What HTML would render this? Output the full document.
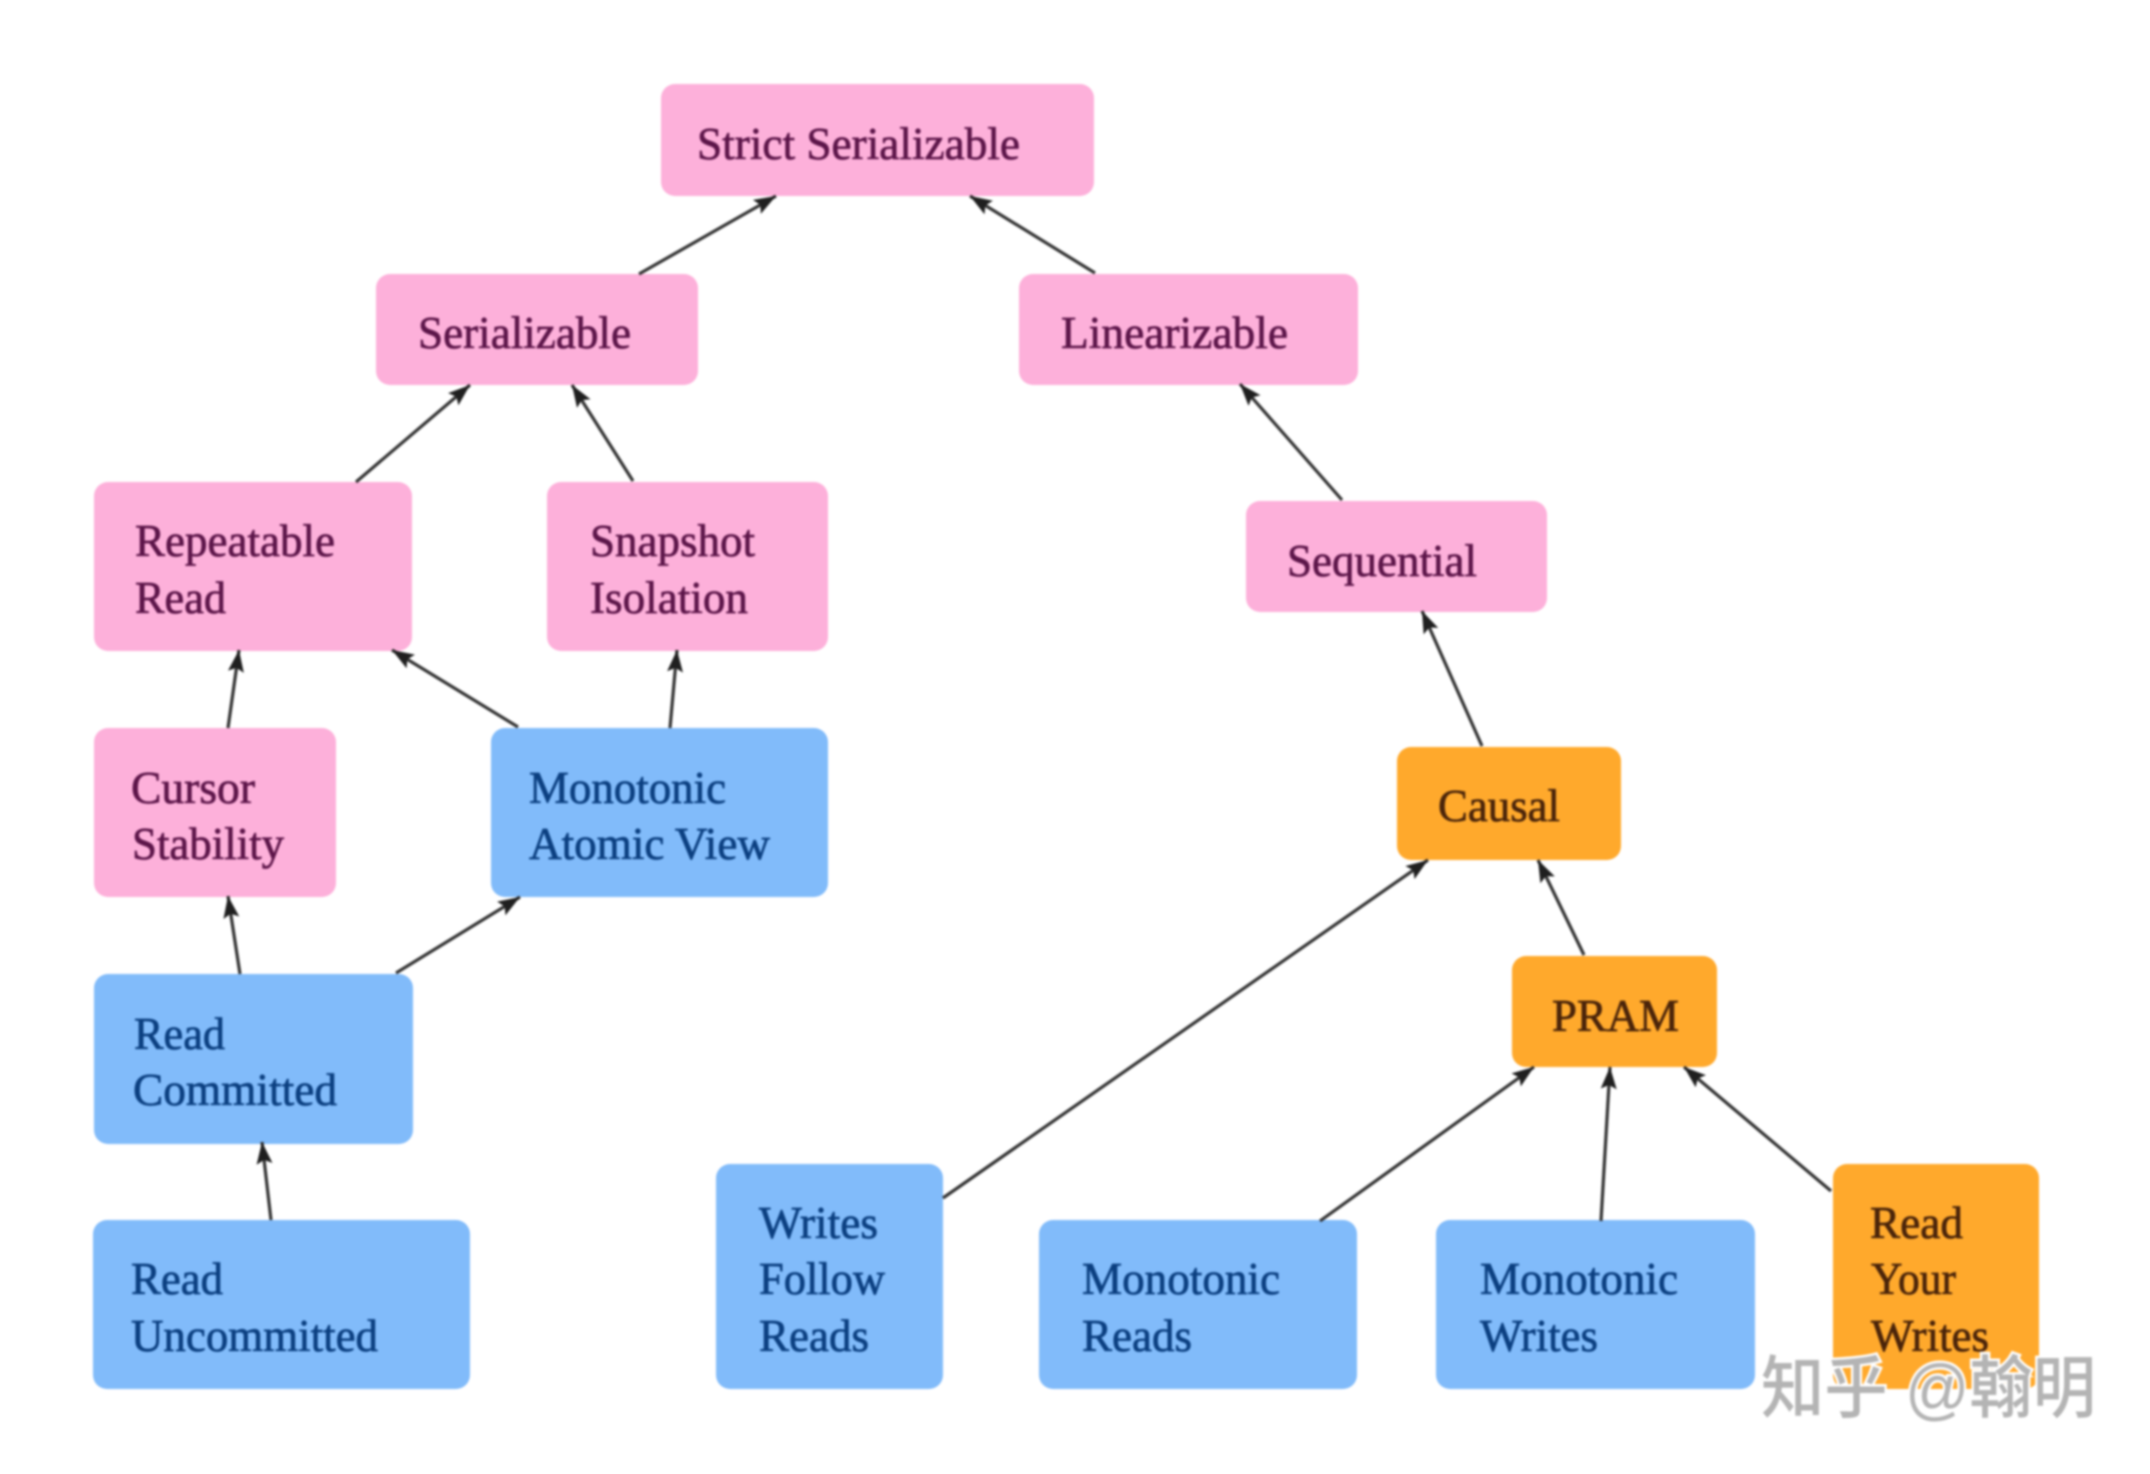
<!DOCTYPE html>
<html>
<head>
<meta charset="utf-8">
<style>
html,body{margin:0;padding:0;background:#fff;width:2150px;height:1474px;overflow:hidden}
svg{display:block;position:absolute;left:0;top:0}
text{font-family:"Liberation Serif","Noto Serif CJK SC",serif;font-size:45px}
.p{fill:#fdb0da}.b{fill:#81bbfa}.o{fill:#ffa92c}
.tp text{fill:#5c1549;stroke:#5c1549;stroke-width:.7px}
.tb text{fill:#0b3f80;stroke:#0b3f80;stroke-width:.7px}
.to text{fill:#4a240a;stroke:#4a240a;stroke-width:.7px}
line{stroke:#333;stroke-width:3.2;marker-end:url(#a)}
.wm{font-family:"Liberation Sans","Noto Sans CJK SC",sans-serif;font-size:68px;fill:#b4b4b4;stroke:#fff;stroke-width:5px;paint-order:stroke;font-weight:500}
</style>
</head>
<body>
<svg width="2150" height="1474" viewBox="0 0 2150 1474" xmlns="http://www.w3.org/2000/svg">
<defs>
<marker id="a" markerUnits="userSpaceOnUse" markerWidth="26" markerHeight="18" refX="22" refY="8" orient="auto">
<path d="M0 0 L22 8 L0 16 L4 8 Z" fill="#1f1f1f"/>
</marker>
</defs>
<g style="filter:blur(1.1px)">
<!-- boxes -->
<rect class="p" x="661" y="84" width="433" height="112" rx="14"/>
<rect class="p" x="376" y="274" width="322" height="111" rx="14"/>
<rect class="p" x="1019" y="274" width="339" height="111" rx="14"/>
<rect class="p" x="94" y="482" width="318" height="169" rx="14"/>
<rect class="p" x="547" y="482" width="281" height="169" rx="14"/>
<rect class="p" x="1246" y="501" width="301" height="111" rx="14"/>
<rect class="p" x="94" y="728" width="242" height="169" rx="14"/>
<rect class="b" x="491" y="728" width="337" height="169" rx="14"/>
<rect class="b" x="94" y="974" width="319" height="170" rx="14"/>
<rect class="b" x="93" y="1220" width="377" height="169" rx="14"/>
<rect class="b" x="716" y="1164" width="227" height="225" rx="14"/>
<rect class="b" x="1039" y="1220" width="318" height="169" rx="14"/>
<rect class="b" x="1436" y="1220" width="319" height="169" rx="14"/>
<rect class="o" x="1833" y="1164" width="206" height="225" rx="14"/>
<rect class="o" x="1397" y="747" width="224" height="113" rx="14"/>
<rect class="o" x="1512" y="956" width="205" height="111" rx="14"/>
<!-- arrows -->
<line x1="639" y1="274" x2="776" y2="196"/>
<line x1="1095" y1="273" x2="970" y2="196"/>
<line x1="356" y1="482" x2="470" y2="385"/>
<line x1="633" y1="481" x2="572" y2="385"/>
<line x1="1342" y1="500" x2="1240" y2="384"/>
<line x1="1482" y1="746" x2="1422" y2="611"/>
<line x1="228" y1="728" x2="239" y2="650"/>
<line x1="518" y1="727" x2="392" y2="650"/>
<line x1="670" y1="728" x2="677" y2="650"/>
<line x1="240" y1="974" x2="228" y2="896"/>
<line x1="396" y1="973" x2="520" y2="897"/>
<line x1="271" y1="1220" x2="262" y2="1142"/>
<line x1="943" y1="1198" x2="1428" y2="860"/>
<line x1="1320" y1="1221" x2="1534" y2="1067"/>
<line x1="1601" y1="1221" x2="1610" y2="1067"/>
<line x1="1831" y1="1191" x2="1684" y2="1067"/>
<line x1="1584" y1="955" x2="1538" y2="860"/>
<!-- labels -->
<g class="tp">
<text x="697" y="159" textLength="323" lengthAdjust="spacingAndGlyphs">Strict Serializable</text>
<text x="418" y="348" textLength="213" lengthAdjust="spacingAndGlyphs">Serializable</text>
<text x="1061" y="348" textLength="227" lengthAdjust="spacingAndGlyphs">Linearizable</text>
<text x="135" y="556" textLength="200" lengthAdjust="spacingAndGlyphs">Repeatable</text>
<text x="135" y="613" textLength="91" lengthAdjust="spacingAndGlyphs">Read</text>
<text x="590" y="556" textLength="165" lengthAdjust="spacingAndGlyphs">Snapshot</text>
<text x="590" y="613" textLength="158" lengthAdjust="spacingAndGlyphs">Isolation</text>
<text x="1287" y="576" textLength="190" lengthAdjust="spacingAndGlyphs">Sequential</text>
<text x="131" y="803" textLength="124" lengthAdjust="spacingAndGlyphs">Cursor</text>
<text x="132" y="859" textLength="152" lengthAdjust="spacingAndGlyphs">Stability</text>
</g>
<g class="tb">
<text x="529" y="803" textLength="197" lengthAdjust="spacingAndGlyphs">Monotonic</text>
<text x="529" y="859" textLength="241" lengthAdjust="spacingAndGlyphs">Atomic View</text>
<text x="134" y="1049" textLength="91" lengthAdjust="spacingAndGlyphs">Read</text>
<text x="133" y="1105" textLength="204" lengthAdjust="spacingAndGlyphs">Committed</text>
<text x="131" y="1294" textLength="92" lengthAdjust="spacingAndGlyphs">Read</text>
<text x="131" y="1351" textLength="247" lengthAdjust="spacingAndGlyphs">Uncommitted</text>
<text x="759" y="1238" textLength="119" lengthAdjust="spacingAndGlyphs">Writes</text>
<text x="759" y="1294" textLength="126" lengthAdjust="spacingAndGlyphs">Follow</text>
<text x="759" y="1351" textLength="110" lengthAdjust="spacingAndGlyphs">Reads</text>
<text x="1082" y="1294" textLength="198" lengthAdjust="spacingAndGlyphs">Monotonic</text>
<text x="1082" y="1351" textLength="110" lengthAdjust="spacingAndGlyphs">Reads</text>
<text x="1480" y="1294" textLength="198" lengthAdjust="spacingAndGlyphs">Monotonic</text>
<text x="1480" y="1351" textLength="118" lengthAdjust="spacingAndGlyphs">Writes</text>
</g>
<g class="to">
<text x="1870" y="1238" textLength="93" lengthAdjust="spacingAndGlyphs">Read</text>
<text x="1871" y="1294" textLength="85" lengthAdjust="spacingAndGlyphs">Your</text>
<text x="1871" y="1351" textLength="118" lengthAdjust="spacingAndGlyphs">Writes</text>
<text x="1438" y="821" textLength="122" lengthAdjust="spacingAndGlyphs">Causal</text>
<text x="1552" y="1031" textLength="127" lengthAdjust="spacingAndGlyphs">PRAM</text>
</g>
<!-- watermark -->
<text class="wm" x="1761" y="1412" textLength="335" lengthAdjust="spacingAndGlyphs">知乎 @翰明</text>
</g>
</svg>
</body>
</html>
